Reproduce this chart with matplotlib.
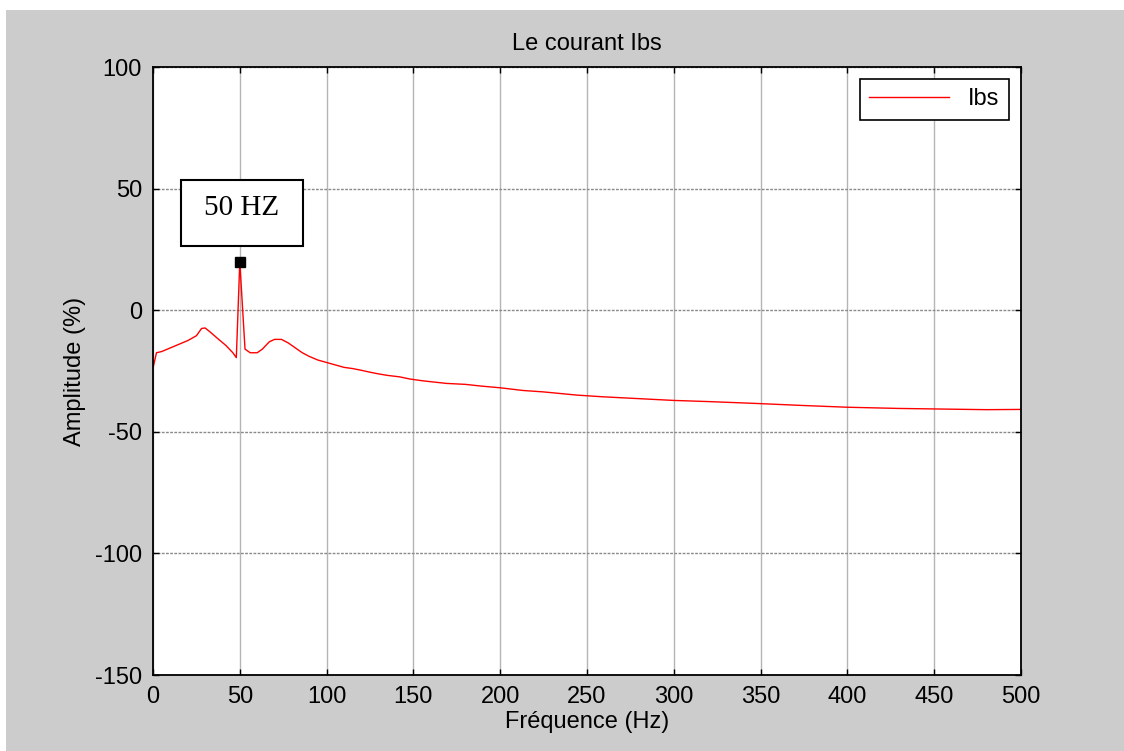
import matplotlib.pyplot as plt
from matplotlib.patches import Rectangle

# spectre du courant Ibs
freq = [0, 2, 5, 10, 15, 20, 25, 28, 30, 33, 37, 42, 46, 48, 50, 53, 56, 60, 63,
        67, 70, 74, 78, 82, 86, 90, 95, 100, 105, 110, 115, 120, 125, 130, 135,
        142, 148, 155, 160, 169, 180, 189, 200, 213, 225, 244, 259, 278, 300,
        321, 346, 375, 400, 430, 450, 480, 500]
amp = [-23.8, -17.5, -17, -15.5, -14, -12.5, -10.5, -7.5, -7.3, -9, -11.5, -14.5,
       -17.5, -19.5, 20, -16, -17.5, -17.5, -16, -13, -12, -12, -13.5, -15.5,
       -17.5, -19, -20.5, -21.5, -22.5, -23.5, -24, -24.7, -25.5, -26.2, -26.8,
       -27.4, -28.3, -29.0, -29.4, -30.1, -30.5, -31.2, -31.9, -33.0, -33.6,
       -34.9, -35.6, -36.3, -37.1, -37.6, -38.3, -39.2, -39.9, -40.4, -40.6,
       -40.9, -40.8]
peak_f = [50]
peak_a = [20]
xticks = [0, 50, 100, 150, 200, 250, 300, 350, 400, 450, 500]
yticks = [-150, -100, -50, 0, 50, 100]

plt.rcParams['font.family'] = ['Liberation Sans', 'DejaVu Sans']
plt.rcParams['axes.unicode_minus'] = False
fs = 17

fig = plt.figure(figsize=(11.24, 7.51), dpi=100, facecolor='white')
# fond gris facon MATLAB
fig.patches.append(Rectangle((6/1124, 0), 1, 1 - 10/751, transform=fig.transFigure,
                             facecolor='#cccccc', edgecolor='none', zorder=-10))

ax = fig.add_axes([153/1124, 1 - 675/751, 868/1124, 608/751])
ax.set_facecolor('white')

ax.plot(freq, amp, color='red', lw=1, label='Ibs')
ax.plot(peak_f, peak_a, 's', color='black', ms=7)

ax.set_xlim(0, 500)
ax.set_ylim(-150, 100)
ax.set_xticks(xticks)
ax.set_yticks(yticks)
ax.tick_params(direction='in', length=4, width=1, top=True, right=True,
               labelsize=fs, pad=8, colors='black')

ax.xaxis.grid(True, color='#b5b5b5', lw=1, ls='-')
ax.yaxis.grid(True, color='#8a8a8a', lw=1, ls=(0, (2, 1)))
ax.set_axisbelow(True)
for s in ax.spines.values():
    s.set_linewidth(1.3)
    s.set_color('black')

ax.set_title('Le courant Ibs', fontsize=fs, pad=12)
ax.set_xlabel('Fréquence (Hz)', fontsize=fs, labelpad=2)
ax.set_ylabel('Amplitude (%)', fontsize=fs, labelpad=6)

# boite d'annotation du pic
ax.add_patch(Rectangle((0.0323, 0.7056), 0.1405, 0.1085, transform=ax.transAxes,
                       facecolor='white', edgecolor='black', lw=1.5, zorder=5))
ax.text(0.1025, 0.768, '50 HZ', transform=ax.transAxes, ha='center', va='center',
        fontsize=21, family='Liberation Serif', zorder=6)

leg = ax.legend(loc='upper right', fontsize=fs, handlelength=3.4, fancybox=False,
                framealpha=1, edgecolor='black', borderaxespad=0.5, borderpad=0.4)
leg.get_frame().set_linewidth(1.2)

fig.savefig('out.png', dpi=100)
